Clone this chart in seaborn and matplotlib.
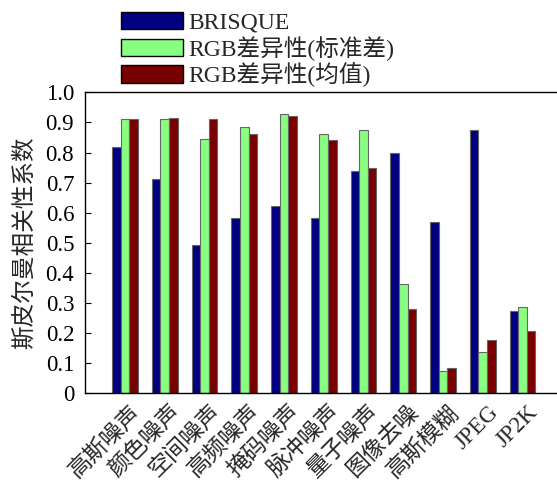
import matplotlib
matplotlib.use("Agg")
import matplotlib.pyplot as plt
import matplotlib.transforms as mtransforms
import seaborn as sns
import pandas as pd

# Distortion categories and Spearman correlation per method
categories = ["高斯噪声", "颜色噪声", "空间噪声", "高频噪声", "掩码噪声", "脉冲噪声",
              "量子噪声", "图像去噪", "高斯模糊", "JPEG", "JP2K"]
methods = ["BRISQUE", "RGB差异性(标准差)", "RGB差异性(均值)"]
brisque = [0.818, 0.711, 0.494, 0.581, 0.621, 0.581, 0.738, 0.797, 0.568, 0.875, 0.273]
rgb_std = [0.912, 0.911, 0.845, 0.886, 0.929, 0.862, 0.876, 0.363, 0.074, 0.137, 0.288]
rgb_mean = [0.911, 0.914, 0.911, 0.862, 0.922, 0.840, 0.749, 0.280, 0.083, 0.178, 0.207]
colors = ["#000080", "#88FF80", "#780000"]
ytick_vals = [0, 0.1, 0.2, 0.3, 0.4, 0.5, 0.6, 0.7, 0.8, 0.9, 1.0]
ytick_labels = ["0", "0.1", "0.2", "0.3", "0.4", "0.5", "0.6", "0.7", "0.8", "0.9", "1.0"]

rows = []
for m, vals in zip(methods, [brisque, rgb_std, rgb_mean]):
    for c, v in zip(categories, vals):
        rows.append({"类别": c, "方法": m, "系数": v})
df = pd.DataFrame(rows)

sns.set_theme(style="white")
plt.rcParams["font.family"] = ["Liberation Serif", "Noto Sans CJK SC"]
plt.rcParams["axes.edgecolor"] = "black"
plt.rcParams["axes.linewidth"] = 1.0

fig = plt.figure(figsize=(5.57, 4.82), dpi=100)
ax = fig.add_axes([0.1531, 0.184, 0.8469, 0.6245])

sns.barplot(data=df, x="类别", y="系数", hue="方法", order=categories,
            hue_order=methods, palette=colors, saturation=1, width=0.65, gap=0,
            edgecolor="#666666", linewidth=0.8, ax=ax, legend=True)

ax.set_xlim(-1.0, 10.87)
ax.set_ylim(0, 1.0)
ax.set_yticks(ytick_vals)
ax.set_yticklabels(ytick_labels, fontsize=16.5)
ax.tick_params(axis="y", direction="in", length=4, width=0.8, left=True, pad=8, colors="black")
ax.tick_params(axis="x", length=0, pad=6)
ax.set_xticks(range(len(categories)))
ax.set_xticklabels(categories, rotation=45, ha="right", va="top",
                   rotation_mode="anchor", fontsize=16.5)
shift = mtransforms.ScaledTranslation(5 / 100, 0, fig.dpi_scale_trans)
for lbl in ax.get_xticklabels():
    lbl.set_transform(lbl.get_transform() + shift)
ax.set_xlabel("")
ax.set_ylabel("斯皮尔曼相关性系数", fontsize=17)
ax.yaxis.set_label_coords(-0.105, 0.5)
ax.spines["right"].set_visible(False)
for s in ["left", "top", "bottom"]:
    ax.spines[s].set_visible(True)

handles, labels = ax.get_legend_handles_labels()
ax.get_legend().remove()
for h in handles:
    h.set_edgecolor("black")
    h.set_linewidth(1.0)
fig.legend(handles, labels, loc="upper left",
           bbox_to_anchor=(120.7 / 557, 1 - 12 / 482), frameon=False,
           borderpad=0, borderaxespad=0, handlelength=2.63, handleheight=0.76,
           handletextpad=0.22, labelspacing=0.08, fontsize=17)

fig.savefig("out.png", dpi=100)
